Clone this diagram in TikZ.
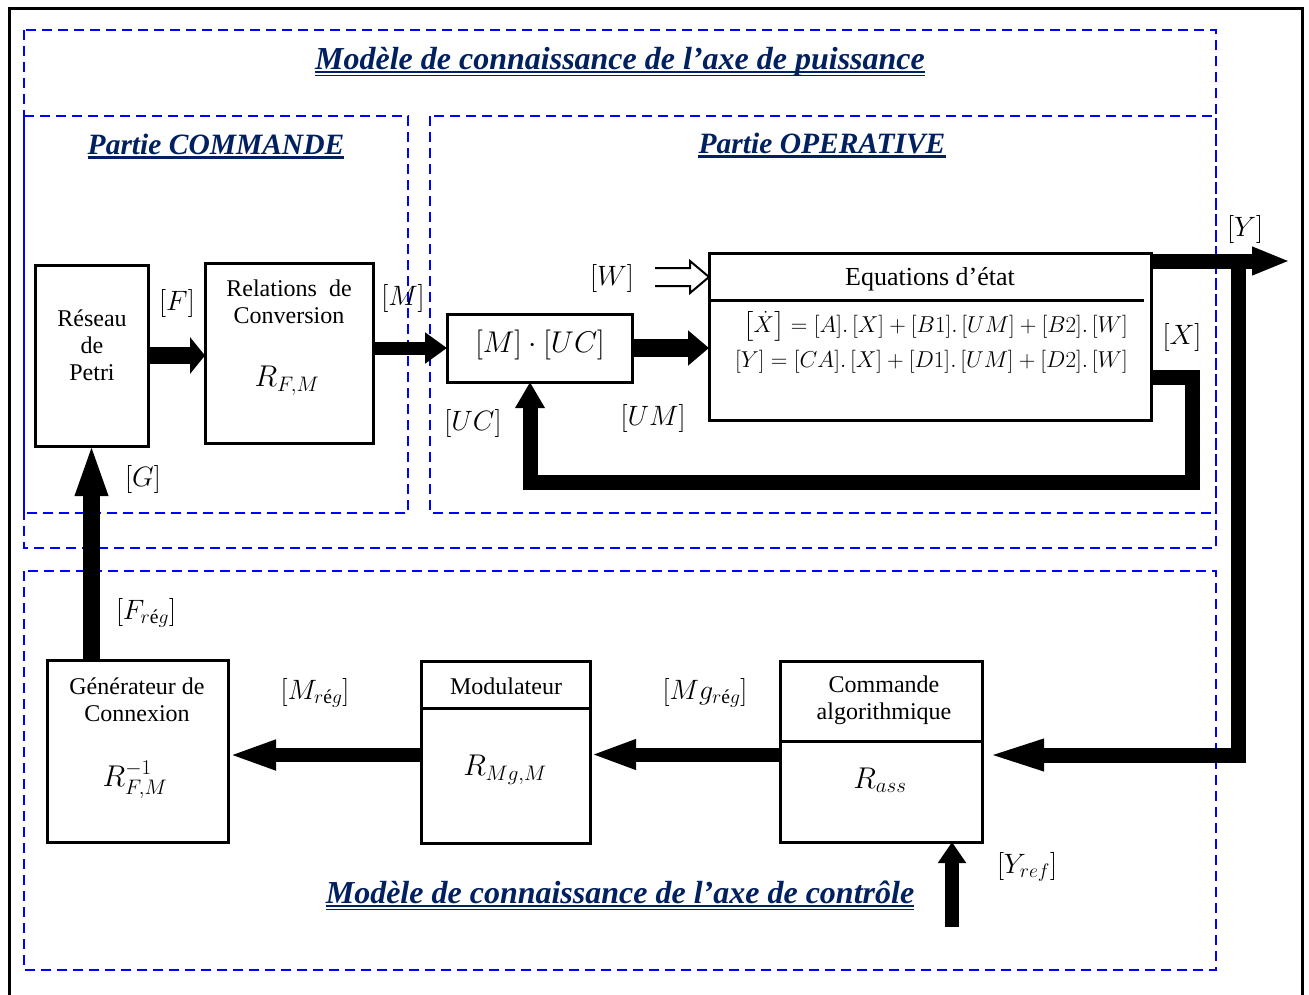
\RequirePackage{fix-cm}
\documentclass[tikz,border=0pt]{standalone}
\usepackage{amsmath}
\usepackage{fontspec}
\setmainfont{Liberation Serif}
\usetikzlibrary{arrows.meta}
\definecolor{navy}{RGB}{0,32,96}

\begin{document}
\begin{tikzpicture}[x=1pt,y=-1pt,
  box/.style={draw, line width=3pt, fill=white, inner sep=0pt, outer sep=0pt},
  zone/.style={draw=blue, line width=2.7pt, dash pattern=on 10pt off 6pt},
  body/.style={font=\fontsize{24}{27}\selectfont, align=center, inner sep=0pt},
  lab/.style={font=\fontsize{28}{32}\selectfont, inner sep=0pt},
  big/.style={font=\fontsize{30}{34}\selectfont, inner sep=0pt},
  heading/.style={text=navy, font=\fontsize{32}{36}\selectfont\bfseries\itshape, inner sep=0pt, anchor=base},
  subheading/.style={text=navy, font=\fontsize{29.5}{34}\selectfont\bfseries\itshape, inner sep=0pt, anchor=base},
  eqn/.style={font=\fontsize{23}{26}\selectfont, inner sep=0pt, anchor=base east},
]
\useasboundingbox (0,0) rectangle (1309,994);
\fill[white] (0,0) rectangle (1309,994);

% outer frame
\draw[line width=3pt] (9,1010) -- (9,8) -- (1302,8) -- (1302,1010);

% dashed zones
\draw[zone] (24,30) rectangle (1216,548);
\draw[zone] (24,116) rectangle (408,513);
\draw[zone] (430,116) rectangle (1216,513);
\draw[zone] (24,571) rectangle (1216,970);

% headings
\node[heading] (ttop) at (620,69) {Modèle de connaissance de l’axe de puissance};
\draw[navy, line width=1.8pt] ([yshift=-3pt]ttop.base west) -- ([yshift=-3pt]ttop.base east);
\draw[navy, line width=1.8pt] ([yshift=-6.5pt]ttop.base west) -- ([yshift=-6.5pt]ttop.base east);
\node[subheading] (tcmd) at (216,154) {Partie COMMANDE};
\draw[navy, line width=3pt] ([yshift=-3.5pt]tcmd.base west) -- ([yshift=-3.5pt]tcmd.base east);
\node[subheading] (top) at (822,153) {Partie OPERATIVE};
\draw[navy, line width=3pt] ([yshift=-3.5pt]top.base west) -- ([yshift=-3.5pt]top.base east);
\node[heading] (tbot) at (620,903) {Modèle de connaissance de l’axe de contrôle};
\draw[navy, line width=1.8pt] ([yshift=-3pt]tbot.base west) -- ([yshift=-3pt]tbot.base east);
\draw[navy, line width=1.8pt] ([yshift=-6.5pt]tbot.base west) -- ([yshift=-6.5pt]tbot.base east);

% blocks
\node[box, minimum width=113pt, minimum height=181pt] (petri) at (91.5,355.5) {};
\node[box, minimum width=168pt, minimum height=180pt] (rel) at (289,353) {};
\node[box, minimum width=185pt, minimum height=68pt] (muc) at (539.5,348) {};
\node[box, minimum width=442pt, minimum height=167pt] (eq) at (930,336.5) {};
\node[box, minimum width=181pt, minimum height=182pt] (gen) at (137.5,751) {};
\node[box, minimum width=169pt, minimum height=182pt] (mod) at (505.5,752) {};
\node[box, minimum width=202pt, minimum height=181pt] (cmd) at (881,751.5) {};

% block dividers
\draw[line width=3pt] ([yshift=-47pt]eq.north west) -- ++(435,0);
\draw[line width=3pt] ([yshift=-47pt]mod.north west) -- ([yshift=-47pt]mod.north east);
\draw[line width=3pt] ([yshift=-80pt]cmd.north west) -- ([yshift=-80pt]cmd.north east);

% block texts
\node[body] (petritxt) at (92,345) {Réseau\\de\\Petri};
\node[body] (reltxt) at (289,302) {Relations\ \ de\\Conversion};
\node[big] (relR) at (287,381) {$R_{F,M}$};
\node[big] (muctxt) at (540,345) {$[M]\cdot[UC]$};
\node[body, font=\fontsize{26}{30}\selectfont] (eqtitle) at (930,279) {Equations d’état};
\node[eqn] (eq1) at (1128,332) {$\bigl[\dot{X}\bigr] = [A].\,[X] + [B1].\,[UM] + [B2].\,[W]$};
\node[eqn] (eq2) at (1128,367) {$[Y] = [CA].\,[X] + [D1].\,[UM] + [D2].\,[W]$};
\node[body] (gentxt) at (137,700) {Générateur de\\Connexion};
\node[big] (genR) at (135,780) {$R_{F,M}^{-1}$};
\node[body] (modtxt) at (506,686) {Modulateur};
\node[big] (modR) at (505,770) {$R_{Mg,M}$};
\node[body] (cmdtxt) at (884,700) {Commande\\algorithmique};
\node[big] (cmdR) at (880,780) {$R_{ass}$};

% signal labels
\node[lab] (lF) at (177,303) {$[F]$};
\node[lab] (lM) at (403,298) {$[M]$};
\node[lab] (lG) at (143,479) {$[G]$};
\node[lab] (lW) at (612,278) {$[W]$};
\node[lab] (lUC) at (473,423) {$[UC]$};
\node[lab] (lUM) at (653,418) {$[UM]$};
\node[lab] (lX) at (1182,337) {$[X]$};
\node[lab] (lY) at (1245,229) {$[Y]$};
\node[lab] (lFr) at (146,613) {$\left[F_{r\text{é}g}\right]$};
\node[lab] (lMr) at (315,693) {$\left[M_{r\text{é}g}\right]$};
\node[lab] (lMgr) at (705,693) {$\left[Mg_{r\text{é}g}\right]$};
\node[lab] (lYr) at (1027,867) {$\left[Y_{ref}\right]$};

% free ends and branch points
\coordinate (yout) at (1290,261);
\coordinate (ytap) at (1238,254);
\coordinate (yrefin) at (952,927);

% connectors of the power axis
\draw[line width=17pt, -{Triangle[length=15pt,width=36pt]}] (petri.east) -- (petri.east -| rel.west);
\draw[line width=13pt, -{Triangle[length=22pt,width=30pt]}] (rel.east |- muc.west) -- (muc.west);
\draw[line width=18pt, -{Triangle[length=21pt,width=34pt]}] (muc.east) -- (muc.east -| eq.west);
\draw[line width=2pt, line join=miter, fill=white] ([yshift=59.5pt]eq.west) ++(-54,-9) -- ++(35,0) -- ++(0,-7)
  -- ([yshift=59.5pt]eq.west) -- ++(-19,16) -- ++(0,-7) -- ++(-35,0);
\draw[line width=15pt, line join=miter, -{Triangle[length=26pt,width=28pt]}]
  ([yshift=-40.5pt]eq.east) -- ++(41,0) -- ++(0,105) -| ([xshift=-9.5pt]muc.south);
\draw[line width=15pt, -{Triangle[length=38pt,width=26pt]}] ([yshift=-8pt]eq.north east) -- (yout);

% connectors of the control axis
\draw[line width=15pt, line join=miter, -{Triangle[length=62pt,width=27pt]}] (ytap) |- ([yshift=-3.5pt]cmd.east);
\draw[line width=14pt, -{Triangle[length=46pt,width=27pt]}] ([yshift=-3pt]cmd.west) -- ([yshift=-3pt]cmd.west -| mod.east);
\draw[line width=14pt, -{Triangle[length=48pt,width=27pt]}] ([yshift=-3pt]mod.west) -- ([yshift=-3pt]mod.west -| gen.east);
\draw[line width=17pt, -{Triangle[length=54pt,width=29pt]}] (petri.south |- gen.north) -- ([yshift=4pt]petri.south);
\draw[line width=14pt, -{Triangle[length=21pt,width=27pt]}] (yrefin) -- (yrefin |- cmd.south);
\end{tikzpicture}
\end{document}
